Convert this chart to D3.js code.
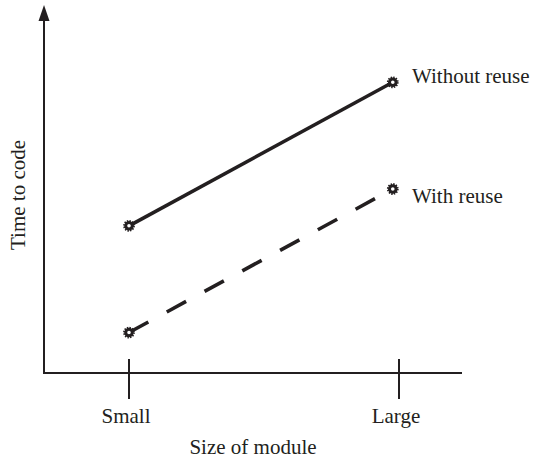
<!DOCTYPE html>
<html>
<head>
<meta charset="utf-8">
<script src="https://cdn.jsdelivr.net/npm/d3@7"></script>
<style>
  body { margin: 0; background: #fff; }
  text { font-family: "Liberation Serif", "Times New Roman", serif; fill: #231f20; }
</style>
</head>
<body>
<script>
// values (arbitrary units, no y ticks shown)
var tickLabels = ["Small", "Large"];
var tickValues = [0, 1];
var pointX = [0, 0.977];
var withoutReuse = [4.0, 7.9];
var withReuse = [1.1, 5.0];
var seriesNames = ["Without reuse", "With reuse"];

var width = 539, height = 460;
var ink = "#231f20";
var fontSize = 21;

var svg = d3.select("body").append("svg")
    .attr("width", width)
    .attr("height", height);

var x = d3.scaleLinear().domain([0, 1]).range([129, 399]);
var y = d3.scaleLinear().domain([0, 10]).range([373, 5]);

var axisLeftX = 44, axisRightX = 462;

// x axis line
svg.append("line")
    .attr("x1", axisLeftX).attr("x2", axisRightX)
    .attr("y1", y(0)).attr("y2", y(0))
    .style("stroke", ink).style("stroke-width", 2);

// y axis line with arrow head
svg.append("line")
    .attr("x1", axisLeftX).attr("x2", axisLeftX)
    .attr("y1", y(0) + 1).attr("y2", y(10) + 12)
    .style("stroke", ink).style("stroke-width", 2);

svg.append("path")
    .attr("d", "M" + axisLeftX + "," + y(10) +
        "L" + (axisLeftX + 5.5) + "," + (y(10) + 16) +
        "L" + (axisLeftX - 5.5) + "," + (y(10) + 16) + "Z")
    .style("fill", ink);

// ticks crossing the x axis
svg.selectAll(".tick")
    .data(tickValues)
    .enter()
    .append("line")
    .attr("class", "tick")
    .attr("x1", function(d) { return x(d); })
    .attr("x2", function(d) { return x(d); })
    .attr("y1", y(0) - 14)
    .attr("y2", y(0) + 26)
    .style("stroke", ink).style("stroke-width", 2);

svg.selectAll(".tickLabel")
    .data(tickValues)
    .enter()
    .append("text")
    .attr("class", "tickLabel")
    .attr("x", function(d) { return x(d) - 3; })
    .attr("y", 423)
    .attr("text-anchor", "middle")
    .style("font-size", fontSize + "px")
    .text(function(d, i) { return tickLabels[i]; });

// axis titles
svg.append("text")
    .attr("x", 253)
    .attr("y", 454)
    .attr("text-anchor", "middle")
    .style("font-size", fontSize + "px")
    .text("Size of module");

svg.append("text")
    .attr("transform", "translate(25,195) rotate(-90)")
    .attr("text-anchor", "middle")
    .style("font-size", fontSize + "px")
    .text("Time to code");

// series lines
var series = [
    { name: seriesNames[0], values: withoutReuse, dash: null },
    { name: seriesNames[1], values: withReuse, dash: "22,21" }
];

var line = d3.line()
    .x(function(d, i) { return x(pointX[i]); })
    .y(function(d) { return y(d); });

svg.selectAll(".series")
    .data(series)
    .enter()
    .append("path")
    .attr("class", "series")
    .attr("d", function(d) { return line(d.values); })
    .style("fill", "none")
    .style("stroke", ink)
    .style("stroke-width", 3.6)
    .style("stroke-dasharray", function(d) { return d.dash; });

// gear-like markers
var points = [];
series.forEach(function(s) {
    s.values.forEach(function(v, i) {
        points.push({ x: pointX[i], y: v });
    });
});

svg.selectAll(".teeth")
    .data(points)
    .enter()
    .append("circle")
    .attr("class", "teeth")
    .attr("cx", function(d) { return x(d.x); })
    .attr("cy", function(d) { return y(d.y); })
    .attr("r", 5)
    .style("fill", "none")
    .style("stroke", ink)
    .style("stroke-width", 1.8)
    .style("stroke-dasharray", "1.4,1.2");

svg.selectAll(".dot")
    .data(points)
    .enter()
    .append("circle")
    .attr("class", "dot")
    .attr("cx", function(d) { return x(d.x); })
    .attr("cy", function(d) { return y(d.y); })
    .attr("r", 3.3)
    .style("fill", "#fff")
    .style("stroke", ink)
    .style("stroke-width", 3);

// series labels
svg.selectAll(".seriesLabel")
    .data(series)
    .enter()
    .append("text")
    .attr("class", "seriesLabel")
    .attr("x", 412)
    .attr("y", function(d) { return y(d.values[1]) + 0.5 + (d.dash ? 13 : 0); })
    .style("font-size", fontSize + "px")
    .text(function(d) { return d.name; });
</script>
</body>
</html>
